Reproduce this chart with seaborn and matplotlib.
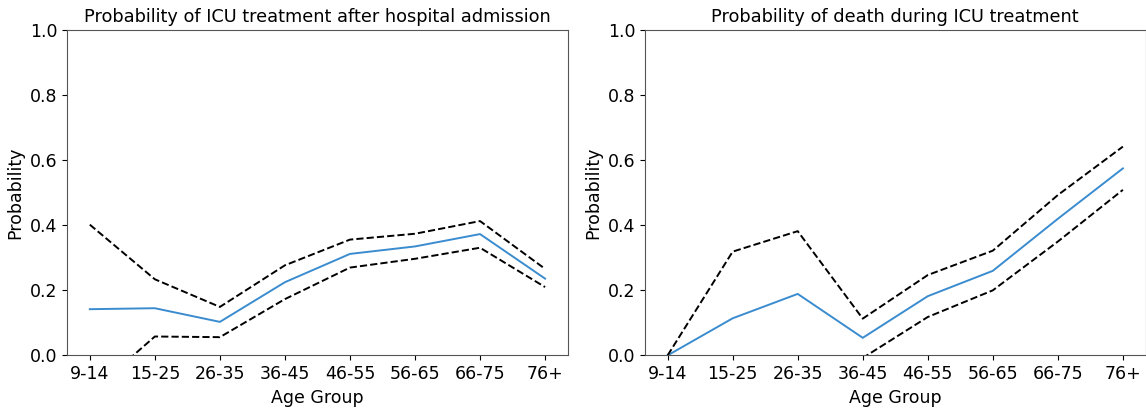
import matplotlib
matplotlib.use("Agg")
import matplotlib.pyplot as plt
import seaborn as sns
import pandas as pd

age_groups = ["9-14", "15-25", "26-35", "36-45", "46-55", "56-65", "66-75", "76+"]

icu_mean = [0.142, 0.145, 0.103, 0.225, 0.312, 0.335, 0.373, 0.236]
icu_upper = [0.402, 0.234, 0.149, 0.277, 0.356, 0.374, 0.413, 0.266]
icu_lower = [-0.117, 0.058, 0.056, 0.173, 0.270, 0.297, 0.331, 0.210]

death_mean = [0.0, 0.114, 0.189, 0.054, 0.182, 0.260, 0.420, 0.575]
death_upper = [0.0, 0.319, 0.382, 0.113, 0.247, 0.322, 0.493, 0.642]
death_lower = [0.0, -0.091, -0.010, -0.008, 0.118, 0.200, 0.350, 0.509]

titles = ["Probability of ICU treatment after hospital admission",
          "Probability of death during ICU treatment"]

plt.rcParams['font.family'] = ['DejaVu Sans']

fig = plt.figure(figsize=(11.46, 4.08), dpi=100)
ax1 = fig.add_axes([0.0585, 0.129, 0.437, 0.797])
ax2 = fig.add_axes([0.5627, 0.129, 0.437, 0.797])

blue = "#3a8ccf"
for ax, m, u, l, t in [(ax1, icu_mean, icu_upper, icu_lower, titles[0]),
                       (ax2, death_mean, death_upper, death_lower, titles[1])]:
    df = pd.DataFrame({"Age Group": age_groups, "mean": m, "upper": u, "lower": l})
    sns.lineplot(data=df, x="Age Group", y="mean", ax=ax, color=blue, lw=1.4, sort=False)
    sns.lineplot(data=df, x="Age Group", y="upper", ax=ax, color="black", lw=1.4,
                 linestyle="--", sort=False)
    sns.lineplot(data=df, x="Age Group", y="lower", ax=ax, color="black", lw=1.4,
                 linestyle="--", sort=False)
    ax.set_ylim(0, 1.0)
    ax.set_title(t, fontsize=12.8)
    ax.set_xlabel("Age Group", fontsize=12.5)
    ax.set_ylabel("Probability", fontsize=12.5)
    ax.tick_params(labelsize=12.5)
    for s in ax.spines.values():
        s.set_color("#555555")

fig.savefig("out.png", dpi=100)
